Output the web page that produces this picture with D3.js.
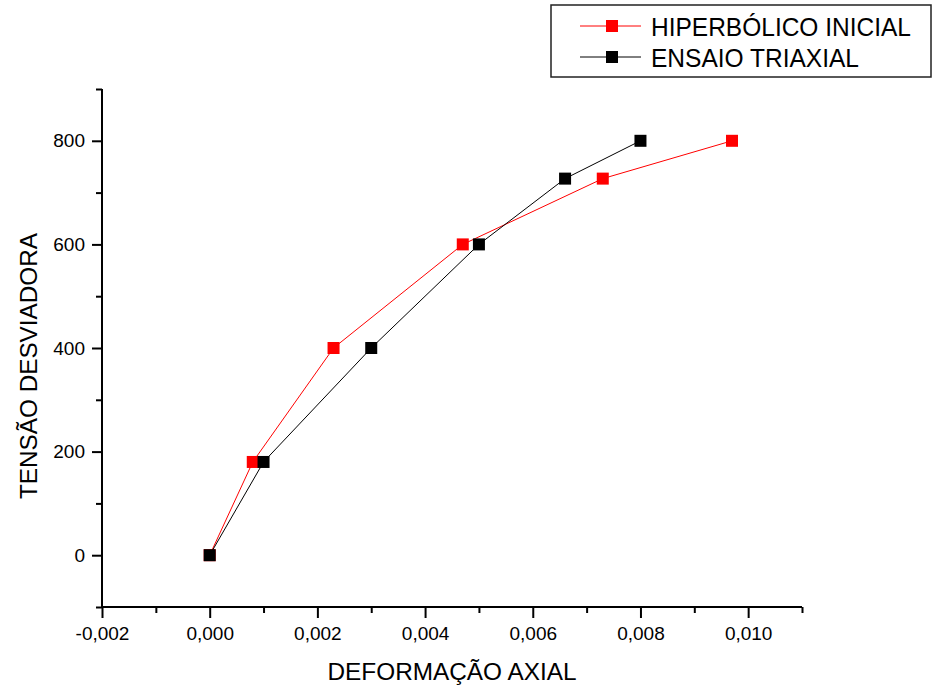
<!DOCTYPE html>
<html lang="pt">
<head>
<meta charset="UTF-8">
<title>Tensão desviadora x deformação axial</title>
<script src="https://d3js.org/d3.v7.min.js"></script>
<style>
  body { margin: 0; background: #fff; }
  svg { font-family: "Liberation Sans", Arial, sans-serif; }
</style>
</head>
<body>
<svg id="chart" width="933" height="689"></svg>
<script>
// dados
const seriesNames = ["HIPERBÓLICO INICIAL", "ENSAIO TRIAXIAL"];
const seriesColors = ["#ff0000", "#000000"];
const hiperbolicoX = [0.0, 0.0008, 0.0023, 0.0047, 0.0073, 0.0097];
const hiperbolicoY = [0, 180, 400, 600, 727, 800];
const ensaioX = [0.0, 0.001, 0.003, 0.005, 0.0066, 0.008];
const ensaioY = [0, 180, 400, 600, 727, 800];
const xTicks = [-0.002, 0, 0.002, 0.004, 0.006, 0.008, 0.010];
const xMinor = [-0.001, 0.001, 0.003, 0.005, 0.007, 0.009, 0.011];
const yTicks = [0, 200, 400, 600, 800];
const yMinor = [-100, 100, 300, 500, 700, 900];

const svg = d3.select("#chart");
const mLeft = 102, mRight = 802, mTop = 89, mBottom = 607;

const x = d3.scaleLinear().domain([-0.002, 0.011]).range([mLeft, mRight]);
const y = d3.scaleLinear().domain([-100, 900]).range([mBottom, mTop]);

const fmtX = d => d3.format(".3f")(d).replace("−", "-").replace(".", ",");

// eixo x
const gx = svg.append("g").attr("transform", `translate(0,${mBottom})`);
gx.call(d3.axisBottom(x).tickValues(xTicks).tickFormat(fmtX).tickSize(11).tickPadding(9));
gx.append("g").call(d3.axisBottom(x).tickValues(xMinor).tickFormat("").tickSize(6));

// eixo y
const gy = svg.append("g").attr("transform", `translate(${mLeft},0)`);
gy.call(d3.axisLeft(y).tickValues(yTicks).tickSize(10).tickPadding(7));
gy.append("g").call(d3.axisLeft(y).tickValues(yMinor).tickFormat("").tickSize(6));

svg.selectAll(".domain").attr("stroke", "#000").attr("stroke-width", 2);
svg.selectAll(".tick line").attr("stroke", "#000").attr("stroke-width", 2);
gx.selectAll("text").attr("fill", "#000").attr("font-size", 19);
gy.selectAll("text").attr("font-size", 19).attr("fill", "#000");
gx.selectAll(".domain").attr("d", `M${mLeft},0H${mRight}`);
gy.selectAll(".domain").attr("d", `M0,${mTop}V${mBottom}`);

// títulos
svg.append("text")
  .attr("x", 452).attr("y", 680)
  .attr("text-anchor", "middle").attr("font-size", 24)
  .attr("textLength", 249).attr("lengthAdjust", "spacingAndGlyphs")
  .text("DEFORMAÇÃO AXIAL");
svg.append("text")
  .attr("transform", `translate(37,366) rotate(-90)`)
  .attr("text-anchor", "middle").attr("font-size", 24)
  .attr("textLength", 266).attr("lengthAdjust", "spacingAndGlyphs")
  .text("TENSÃO DESVIADORA");

// séries
const series = [
  { name: seriesNames[0], color: seriesColors[0], pts: hiperbolicoX.map((v, i) => [v, hiperbolicoY[i]]) },
  { name: seriesNames[1], color: seriesColors[1], pts: ensaioX.map((v, i) => [v, ensaioY[i]]) }
];
const line = d3.line().x(d => x(d[0])).y(d => y(d[1]));
const ms = 12;

series.forEach(s => {
  svg.append("path")
    .datum(s.pts)
    .attr("d", line)
    .attr("fill", "none")
    .attr("stroke", s.color)
    .attr("stroke-width", 1);
  svg.selectAll(null)
    .data(s.pts)
    .enter().append("rect")
    .attr("x", d => x(d[0]) - ms / 2)
    .attr("y", d => y(d[1]) - ms / 2)
    .attr("width", ms)
    .attr("height", ms)
    .attr("fill", s.color);
});

// legenda
const leg = svg.append("g");
leg.append("rect")
  .attr("x", 551).attr("y", 5).attr("width", 380).attr("height", 72)
  .attr("fill", "#fff").attr("stroke", "#222").attr("stroke-width", 1.5);
const legLen = [260, 208];
series.forEach((s, i) => {
  const ly = 26 + i * 31;
  leg.append("line")
    .attr("x1", 580).attr("x2", 641).attr("y1", ly).attr("y2", ly)
    .attr("stroke", s.color).attr("stroke-width", 1);
  leg.append("rect")
    .attr("x", 612 - ms / 2).attr("y", ly - ms / 2)
    .attr("width", ms).attr("height", ms).attr("fill", s.color);
  leg.append("text")
    .attr("x", 651).attr("y", ly + 9.5)
    .attr("font-size", 26)
    .attr("textLength", legLen[i]).attr("lengthAdjust", "spacingAndGlyphs")
    .text(s.name);
});
</script>
</body>
</html>
